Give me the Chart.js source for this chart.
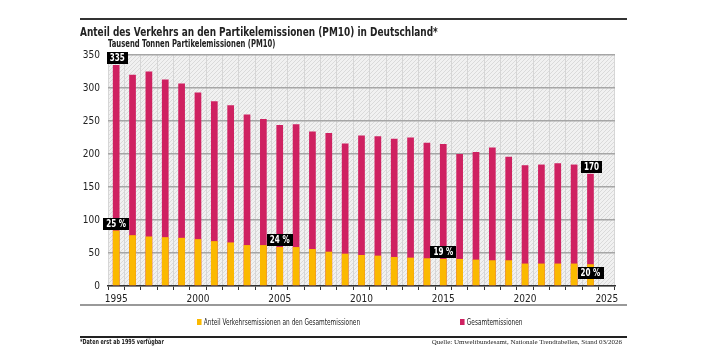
<!DOCTYPE html>
<html lang="de">
<head>
<meta charset="utf-8">
<title>Anteil des Verkehrs an den Partikelemissionen (PM10)</title>
<script src="https://cdn.jsdelivr.net/npm/chart.js@4"></script>
<style>
  body {
    margin: 0;
    width: 707px;
    height: 354px;
    background: #fff;
    position: relative;
    overflow: hidden;
    font-family: "Liberation Sans Narrow", "DejaVu Sans Condensed", sans-serif;
    color: #222;
  }
  #chart { position: absolute; left: 0; top: 0; }
  .rule { position: absolute; left: 80px; width: 547px; }
  .txt { position: absolute; white-space: nowrap; line-height: 1; transform-origin: 0 0; }
  .sq { display: inline-block; width: 6px; height: 6px; margin-right: 3px; vertical-align: 0; }
</style>
</head>
<body>
<canvas id="chart" width="707" height="354"></canvas>

<div class="rule" style="top:18px;height:2px;background:#333;"></div>
<div class="txt" id="title" style="left:80px;top:25px;font-size:13px;font-weight:bold;transform:scaleX(0.765);">Anteil des Verkehrs an den Partikelemissionen (PM10) in Deutschland*</div>
<div class="txt" style="left:108px;top:39px;font-size:10px;font-weight:bold;transform:scaleX(0.76);">Tausend Tonnen Partikelemissionen (PM10)</div>

<div class="rule" style="top:304px;height:2px;background:#999;"></div>
<div class="txt" id="legend1" style="left:197px;top:318px;font-size:8.5px;transform:scaleX(0.76);"><span class="sq" style="background:#fbb900"></span>Anteil Verkehrsemissionen an den Gesamtemissionen</div>
<div class="txt" id="legend2" style="left:460px;top:318px;font-size:8.5px;transform:scaleX(0.76);"><span class="sq" style="background:#cf2161"></span>Gesamtemissionen</div>

<div class="rule" style="top:336px;height:2px;background:#222;"></div>
<div class="txt" style="left:80px;top:339px;font-size:7px;font-weight:bold;transform:scaleX(0.77);">*Daten erst ab 1995 verfügbar</div>
<div class="txt" style="right:85px;top:339px;font-size:7px;font-family:'Liberation Serif','DejaVu Serif',serif;">Quelle: Umweltbundesamt, Nationale Trendtabellen, Stand 03/2026</div>

<script>
// Jahre (2025 ohne Daten, nur Achsenende)
const years = ['1995', '1996', '1997', '1998', '1999', '2000', '2001', '2002', '2003', '2004',
               '2005', '2006', '2007', '2008', '2009', '2010', '2011', '2012', '2013', '2014',
               '2015', '2016', '2017', '2018', '2019', '2020', '2021', '2022', '2023', '2024',
               '2025'];

// Gesamtemissionen PM10 (Tsd. t)
const totalEmissions = [335, 320, 325, 313, 307, 293, 280, 274, 260, 253,
                        244, 245, 234, 232, 216, 228, 227, 223, 225, 217,
                        215, 200, 203, 210, 196, 183, 184, 186, 184, 170];

// davon Verkehr (Tsd. t)
const trafficEmissions = [84, 77, 75, 74, 73, 71, 68, 66, 62, 62,
                          59, 59, 56, 52, 49, 47, 46, 44, 43, 42,
                          41, 41, 40, 39, 39, 34, 34, 34, 34, 33];

// Beschriftungen
const totalLabels = [
    { year: '1995', text: '335' },
    { year: '2024', text: '170' }
];
const shareLabels = [
    { year: '1995', text: '25 %' },
    { year: '2005', text: '24 %' },
    { year: '2015', text: '19 %' },
    { year: '2024', text: '20 %', below: true }
];

const colorTraffic = '#fbb900';
const colorTotal = '#cf2161';
const fontFamily = '"Liberation Sans Narrow", "DejaVu Sans Condensed", sans-serif';

// schraffierter Hintergrund
function makeHatch() {
    const c = document.createElement('canvas');
    c.width = 4;
    c.height = 4;
    const g = c.getContext('2d');
    g.fillStyle = '#f1f1f1';
    g.fillRect(0, 0, 4, 4);
    g.strokeStyle = '#dadada';
    g.lineWidth = 1;
    g.beginPath();
    g.moveTo(0, 4); g.lineTo(4, 0);
    g.moveTo(-1, 1); g.lineTo(1, -1);
    g.moveTo(3, 5); g.lineTo(5, 3);
    g.stroke();
    return g.createPattern(c, 'repeat');
}

const backgroundPlugin = {
    id: 'hatchBackground',
    beforeDraw(chart) {
        const a = chart.chartArea;
        const ctx = chart.ctx;
        ctx.save();
        ctx.fillStyle = makeHatch();
        ctx.fillRect(a.left, a.top, a.right - a.left, a.bottom - a.top);
        ctx.restore();
    }
};

// schwarze Kästchen mit weißer Schrift
function drawBox(ctx, cx, y, text, below) {
    const squeeze = 0.8;
    ctx.font = 'bold 10px ' + fontFamily;
    const w = ctx.measureText(text).width * squeeze + 6;
    const h = 12;
    const top = below ? y + 3 : y - h - 1;
    ctx.fillStyle = '#000';
    ctx.fillRect(Math.round(cx - w / 2), Math.round(top), Math.round(w), h);
    ctx.save();
    ctx.translate(cx, top + h / 2 + 0.5);
    ctx.scale(squeeze, 1);
    ctx.fillStyle = '#fff';
    ctx.textAlign = 'center';
    ctx.textBaseline = 'middle';
    ctx.fillText(text, 0, 0);
    ctx.restore();
}

const labelPlugin = {
    id: 'valueBoxes',
    afterDatasetsDraw(chart) {
        const ctx = chart.ctx;
        const x = chart.scales.x;
        const y = chart.scales.y;
        ctx.save();
        totalLabels.forEach(l => {
            const i = years.indexOf(l.year);
            drawBox(ctx, x.getPixelForValue(i) + 1, y.getPixelForValue(totalEmissions[i]), l.text, false);
        });
        shareLabels.forEach(l => {
            const i = years.indexOf(l.year);
            drawBox(ctx, x.getPixelForValue(i), y.getPixelForValue(trafficEmissions[i]), l.text, l.below);
        });
        ctx.restore();
    }
};

new Chart(document.getElementById('chart').getContext('2d'), {
    type: 'bar',
    data: {
        labels: years,
        datasets: [
            {
                label: 'Anteil Verkehrsemissionen an den Gesamtemissionen',
                data: trafficEmissions,
                backgroundColor: colorTraffic,
                barPercentage: 0.41,
                categoryPercentage: 1
            },
            {
                label: 'Gesamtemissionen',
                data: totalEmissions,
                backgroundColor: colorTotal,
                barPercentage: 0.41,
                categoryPercentage: 1
            }
        ]
    },
    options: {
        responsive: false,
        animation: false,
        layout: { padding: { left: 80, right: 92, top: 55, bottom: 50 } },
        plugins: {
            legend: { display: false },
            tooltip: { enabled: false }
        },
        scales: {
            x: {
                stacked: true,
                offset: true,
                grid: {
                    offset: true,
                    color: '#d6d6d6',
                    lineWidth: 1,
                    tickColor: '#333',
                    tickLength: 4
                },
                border: { color: '#333', width: 1.5 },
                ticks: {
                    autoSkip: false,
                    maxRotation: 0,
                    padding: 3,
                    color: '#222',
                    font: { family: fontFamily, size: 10 },
                    callback: function (v, i) {
                        const yr = years[i];
                        return Number(yr) % 5 === 0 ? yr : '';
                    }
                },
                afterFit: s => { s.height = 18; }
            },
            y: {
                stacked: false,
                min: 0,
                max: 350,
                grid: {
                    color: '#a6a6a6',
                    lineWidth: 1.5,
                    drawTicks: false
                },
                border: { display: false },
                ticks: {
                    stepSize: 50,
                    padding: 8,
                    color: '#222',
                    font: { family: fontFamily, size: 10 }
                },
                afterFit: s => { s.width = 28; }
            }
        }
    },
    plugins: [backgroundPlugin, labelPlugin]
});
</script>
</body>
</html>
